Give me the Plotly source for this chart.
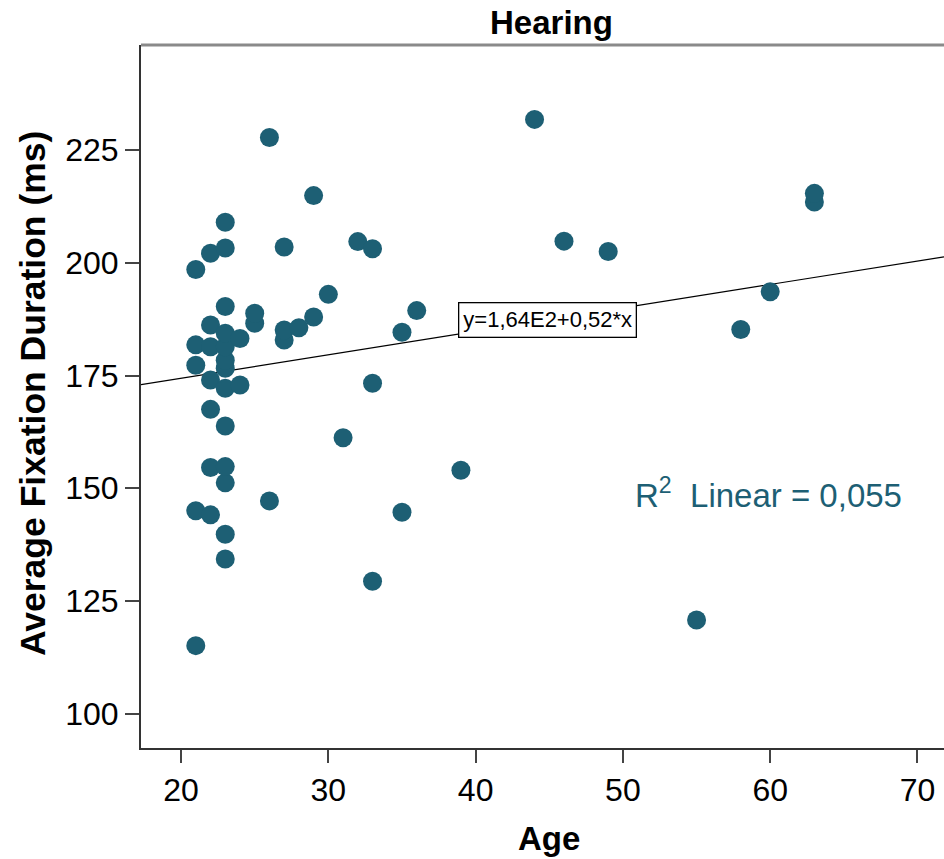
import plotly.graph_objects as go

# Data
age = [21, 21, 21, 21, 21,
       22, 22, 22, 22, 22, 22, 22,
       23, 23, 23, 23, 23, 23, 23, 23, 23, 23, 23, 23, 23,
       24, 24,
       25, 25,
       26, 26,
       27, 27, 27,
       28,
       29, 29,
       30,
       31,
       32,
       33, 33, 33,
       35, 35,
       36,
       39,
       44,
       46,
       49,
       55,
       58,
       60,
       63, 63]
fixation = [115.1, 145.0, 177.3, 181.8, 198.5,
            144.1, 154.6, 167.5, 174.0, 181.4, 186.2, 202.1,
            134.3, 139.8, 151.2, 154.8, 163.8, 172.2, 176.6, 178.4, 181.4, 184.4, 190.3, 203.3, 209.0,
            172.9, 183.2,
            186.6, 188.8,
            147.2, 227.8,
            182.9, 185.1, 203.5,
            185.6,
            188.0, 214.9,
            193.0,
            161.2,
            204.7,
            129.4, 173.3, 203.1,
            144.7, 184.6,
            189.4,
            154.0,
            231.8,
            204.8,
            202.5,
            120.8,
            185.2,
            193.6,
            213.5, 215.4]

intercept = 164.0
slope = 0.52
x_range = [17.28, 71.8]
y_range = [92.4, 248.3]
x_ticks = [20, 30, 40, 50, 60, 70]
y_ticks = [100, 125, 150, 175, 200, 225]

FONT = "Liberation Sans, Arial, sans-serif"
TEAL = "#1d5f74"

fig = go.Figure()

fig.add_trace(go.Scatter(
    x=x_range,
    y=[intercept + slope * v for v in x_range],
    mode="lines",
    line=dict(color="black", width=1.2),
    hoverinfo="skip",
    showlegend=False,
))

fig.add_trace(go.Scatter(
    x=age, y=fixation, mode="markers",
    marker=dict(size=19, color=TEAL, line=dict(width=0)),
    showlegend=False,
))

fig.update_layout(
    width=944, height=859,
    margin=dict(l=141, r=0, t=45, b=111),
    paper_bgcolor="white", plot_bgcolor="white",
    font=dict(family=FONT, color="black"),
    xaxis=dict(
        range=x_range, tickvals=x_ticks, showgrid=False, zeroline=False,
        showline=True, linecolor="#333333", linewidth=2,
        ticks="outside", ticklen=13, tickwidth=1.5, tickcolor="#444444",
        tickfont=dict(size=32, family=FONT, color="black"),
    ),
    yaxis=dict(
        range=y_range, tickvals=y_ticks, showgrid=False, zeroline=False,
        showline=True, linecolor="#333333", linewidth=2,
        ticks="outside", ticklen=14, tickwidth=1.5, tickcolor="#444444",
        tickfont=dict(size=32, family=FONT, color="black"),
    ),
)

# top border
fig.add_shape(type="line", xref="paper", yref="paper", x0=0, x1=1, y0=1, y1=1,
              line=dict(color="#8a8a8a", width=3))

# title and axis titles
fig.add_annotation(text="<b>Hearing</b>", xref="paper", yref="paper",
                   x=(551 - 141) / 803, y=1, yanchor="bottom", yshift=2,
                   showarrow=False, font=dict(size=33, family=FONT, color="black"))
fig.add_annotation(text="<b>Age</b>", xref="paper", yref="paper",
                   x=(549 - 141) / 803, y=0, yanchor="top", yshift=-70,
                   showarrow=False, font=dict(size=33, family=FONT, color="black"))
fig.add_annotation(text="<b>Average Fixation Duration (ms)</b>", xref="paper", yref="paper",
                   x=0, xanchor="right", xshift=-86, y=(748 - 394) / 703,
                   textangle=-90, showarrow=False,
                   font=dict(size=35.5, family=FONT, color="black"))

# equation label
fig.add_annotation(text="y=1,64E2+0,52*x", x=44.9, y=187.3, xref="x", yref="y",
                   showarrow=False, bgcolor="white", bordercolor="black", borderwidth=1.3,
                   borderpad=4, font=dict(size=22, family=FONT, color="black"))

# R^2 label
fig.add_annotation(text="R<sup>2</sup>  Linear = 0,055", x=(768 - 181) / 14.73 + 20, y=225 - (493 - 150) / 4.51,
                   xref="x", yref="y", showarrow=False,
                   font=dict(size=33, family=FONT, color=TEAL))

fig.write_html("out.html")
